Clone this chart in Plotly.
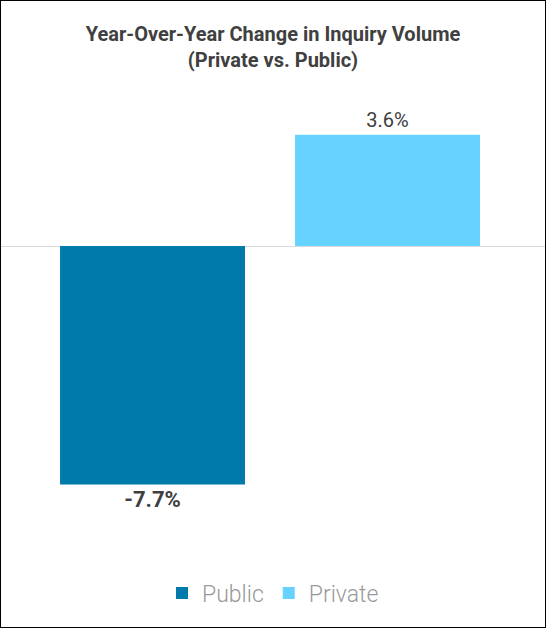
import plotly.graph_objects as go

# data
groups = ["Public", "Private"]
yoy_change = [-7.7, 3.6]
bar_colors = ["#0079AB", "#66D2FF"]

title_text = "Year-Over-Year Change in Inquiry Volume<br>(Private vs. Public)"

fig = go.Figure()

label_fonts = [
    dict(family="Roboto", size=22, color="#404040", weight="bold"),
    dict(family="Roboto", size=20, color="#404040"),
]

for i in range(len(groups)):
    fig.add_trace(go.Bar(
        x=[groups[i]],
        y=[yoy_change[i]],
        name=groups[i],
        marker=dict(color=bar_colors[i], line=dict(width=0)),
        width=0.787,
        text=["%.1f%%" % yoy_change[i]],
        textposition="outside",
        textfont=label_fonts[i],
        cliponaxis=False,
        hoverinfo="skip",
    ))

fig.update_layout(
    width=546,
    height=628,
    margin=dict(l=0, r=0, t=0, b=0),
    paper_bgcolor="white",
    plot_bgcolor="white",
    barmode="relative",
    font=dict(family="Roboto", color="#404040"),
    title=dict(
        text=title_text,
        x=0.5,
        xanchor="center",
        y=1 - 41 / 628,
        yanchor="top",
        font=dict(family="Roboto", size=20, color="#404040", weight="bold"),
    ),
    xaxis=dict(
        type="category",
        range=[-0.649, 1.6745],
        showgrid=False,
        showticklabels=False,
        zeroline=False,
        showline=False,
        fixedrange=True,
    ),
    yaxis=dict(
        range=[-12.34, 7.95],
        showgrid=False,
        showticklabels=False,
        zeroline=True,
        zerolinecolor="#d9d9d9",
        zerolinewidth=1,
        showline=False,
        fixedrange=True,
    ),
    legend=dict(
        orientation="h",
        x=0.5,
        xanchor="center",
        y=1 - 593 / 628,
        yanchor="middle",
        font=dict(family="Roboto", size=23, color="#999999", weight=300),
        itemwidth=30,
    ),
    showlegend=True,
    shapes=[dict(
        type="rect", xref="paper", yref="paper",
        x0=0, x1=1, y0=0, y1=1,
        line=dict(color="black", width=2),
        fillcolor="rgba(0,0,0,0)",
        layer="above",
    )],
)

# page has a default 8px body margin, drop it so the chart sits at the edge
fig.write_html("out.html", config={"displayModeBar": False},
               post_script="document.body.style.margin='0';")
